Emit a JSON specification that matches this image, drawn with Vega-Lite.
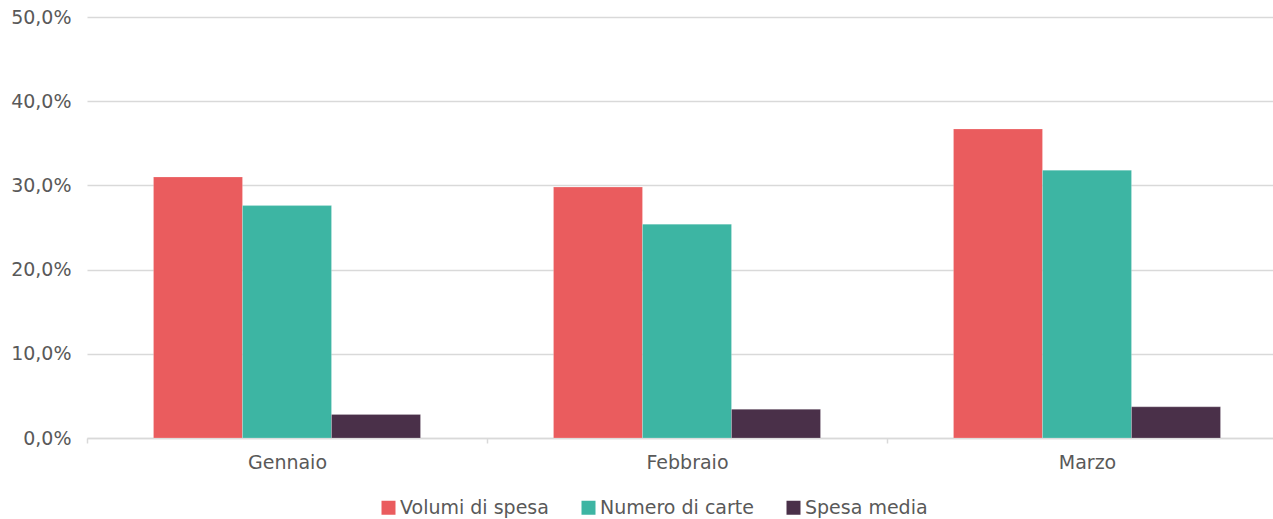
{
  "$schema": "https://vega.github.io/schema/vega-lite/v6.json",
  "width": 1200,
  "height": 421,
  "autosize": {"type": "none"},
  "padding": {"left": 87, "top": 17, "right": 0, "bottom": 81},
  "config": {
    "locale": {"number": {"decimal": ",", "thousands": ".", "grouping": [3], "currency": ["€", ""]}},
    "view": {"stroke": null},
    "font": "DejaVu Sans"
  },
  "data": {
    "values": [
      {"mese": "Gennaio", "serie": "Volumi di spesa", "v": 0.310},
      {"mese": "Gennaio", "serie": "Numero di carte", "v": 0.276},
      {"mese": "Gennaio", "serie": "Spesa media", "v": 0.028},
      {"mese": "Febbraio", "serie": "Volumi di spesa", "v": 0.298},
      {"mese": "Febbraio", "serie": "Numero di carte", "v": 0.254},
      {"mese": "Febbraio", "serie": "Spesa media", "v": 0.034},
      {"mese": "Marzo", "serie": "Volumi di spesa", "v": 0.367},
      {"mese": "Marzo", "serie": "Numero di carte", "v": 0.318},
      {"mese": "Marzo", "serie": "Spesa media", "v": 0.037}
    ]
  },
  "mark": {"type": "bar", "stroke": "#ffffff", "strokeWidth": 0.5, "strokeOpacity": 0.4},
  "encoding": {
    "x": {
      "field": "mese", "type": "nominal", "sort": ["Gennaio", "Febbraio", "Marzo"],
      "scale": {"paddingInner": 0, "paddingOuter": 0},
      "axis": {
        "title": null, "labelAngle": 0, "labelFontSize": 19, "labelColor": "#595959",
        "labelPadding": 10, "tickBand": "extent", "tickColor": "#d9d9d9", "tickSize": 5,
        "tickWidth": 1.5, "domainColor": "#d9d9d9", "domainWidth": 1.5
      }
    },
    "xOffset": {
      "field": "serie", "type": "nominal",
      "sort": ["Volumi di spesa", "Numero di carte", "Spesa media"],
      "scale": {"paddingInner": 0, "paddingOuter": 0.747}
    },
    "y": {
      "field": "v", "type": "quantitative",
      "scale": {"domain": [0, 0.5]},
      "axis": {
        "title": null, "format": ".1%", "values": [0, 0.1, 0.2, 0.3, 0.4, 0.5],
        "labelOverlap": false, "labelBound": false, "labelFlush": false,
        "domain": false, "ticks": false, "labelFontSize": 19, "labelColor": "#595959",
        "labelPadding": 16, "gridColor": "#d9d9d9", "gridWidth": 1.5
      }
    },
    "color": {
      "field": "serie", "type": "nominal",
      "sort": ["Volumi di spesa", "Numero di carte", "Spesa media"],
      "scale": {"domain": ["Volumi di spesa", "Numero di carte", "Spesa media"], "range": ["#EA5C5E", "#3DB5A3", "#4A3049"]},
      "legend": {
        "title": null, "orient": "none", "direction": "horizontal",
        "legendX": 292, "legendY": 481, "symbolType": "square", "symbolSize": 196,
        "symbolStrokeWidth": 0, "labelFontSize": 19, "labelColor": "#595959",
        "labelOffset": 2, "columnPadding": 30
      }
    }
  }
}
